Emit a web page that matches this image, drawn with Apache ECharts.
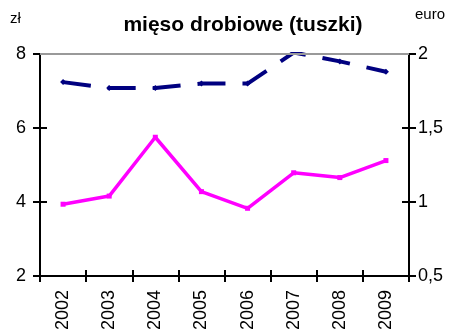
<!DOCTYPE html>
<html>
<head>
<meta charset="utf-8">
<script src="https://cdn.jsdelivr.net/npm/echarts@6/dist/echarts.min.js"></script>
<style>
  html, body { margin: 0; padding: 0; background: #fff; }
  #chart { width: 455px; height: 336px; }
</style>
</head>
<body>
<div id="chart"></div>
<script>
// Years on the category axis
const years = ['2002', '2003', '2004', '2005', '2006', '2007', '2008', '2009'];
// Price in złoty (left axis)
const pricePln = [3.94, 4.16, 5.75, 4.28, 3.83, 4.79, 4.66, 5.12];
// Price in euro (right axis)
const priceEur = [1.81, 1.77, 1.77, 1.80, 1.80, 2.01, 1.95, 1.88];
// Axis ranges and tick steps
const plnAxis = { min: 2, max: 8, interval: 2 };
const eurAxis = { min: 0.5, max: 2, interval: 0.5 };

const font = 'Liberation Sans, Arial, sans-serif';
const axisLabelStyle = { color: '#000', fontSize: 18, fontFamily: font };

const chart = echarts.init(document.getElementById('chart'), null, { renderer: 'canvas' });

const grid = { left: 40, right: 46, top: 54, bottom: 60, containLabel: false };

chart.setOption({
  animation: false,
  backgroundColor: '#fff',
  title: {
    text: 'mięso drobiowe (tuszki)',
    left: 238,
    top: 10,
    textAlign: 'center',
    textStyle: { fontFamily: font, fontSize: 21, fontWeight: 'bold', color: '#000' }
  },
  graphic: [
    { type: 'text', left: 10, top: 11, style: { text: 'zł', font: '15px ' + font, fill: '#000' } },
    { type: 'text', left: 415, top: 7, style: { text: 'euro', font: '15px ' + font, fill: '#000' } }
  ],
  grid: grid,
  xAxis: [
    {
      type: 'category',
      data: years,
      boundaryGap: true,
      axisLine: { lineStyle: { color: '#000', width: 2 } },
      axisTick: { show: true, length: 6, inside: false, lineStyle: { color: '#000', width: 2 } },
      axisLabel: Object.assign({ rotate: 90, margin: 14, interval: 0 }, axisLabelStyle),
      splitLine: { show: false }
    },
    {
      // duplicate axis that draws the inner half of the crossing ticks
      type: 'category',
      data: years,
      position: 'bottom',
      boundaryGap: true,
      axisLine: { show: false },
      axisTick: { show: true, length: 6, inside: true, lineStyle: { color: '#000', width: 2 } },
      axisLabel: { show: false },
      splitLine: { show: false }
    }
  ],
  yAxis: [
    {
      type: 'value',
      position: 'left',
      min: plnAxis.min, max: plnAxis.max, interval: plnAxis.interval,
      axisLine: { show: true, lineStyle: { color: '#000', width: 2 } },
      axisTick: { show: true, length: 7, lineStyle: { color: '#000', width: 2 } },
      axisLabel: Object.assign({ margin: 14 }, axisLabelStyle),
      splitLine: { show: false }
    },
    {
      type: 'value',
      position: 'right',
      min: eurAxis.min, max: eurAxis.max, interval: eurAxis.interval,
      axisLine: { show: true, lineStyle: { color: '#000', width: 2 } },
      axisTick: { show: true, length: 7, lineStyle: { color: '#000', width: 2 } },
      axisLabel: Object.assign({ margin: 9, formatter: v => String(v).replace('.', ',') }, axisLabelStyle),
      splitLine: { show: false }
    },
    {
      // inner halves of the left ticks
      type: 'value',
      position: 'left',
      min: plnAxis.min, max: plnAxis.max, interval: plnAxis.interval,
      axisLine: { show: false },
      axisTick: { show: true, inside: true, length: 7, lineStyle: { color: '#000', width: 2 } },
      axisLabel: { show: false },
      splitLine: { show: false }
    },
    {
      // inner halves of the right ticks
      type: 'value',
      position: 'right',
      min: eurAxis.min, max: eurAxis.max, interval: eurAxis.interval,
      axisLine: { show: false },
      axisTick: { show: true, inside: true, length: 7, lineStyle: { color: '#000', width: 2 } },
      axisLabel: { show: false },
      splitLine: { show: false }
    }
  ],
  series: [
    {
      // gray top border of the plot at 8 zł
      type: 'line',
      yAxisIndex: 0,
      data: [],
      markLine: {
        silent: true,
        symbol: 'none',
        label: { show: false },
        lineStyle: { color: '#999', width: 2, type: 'solid' },
        data: [{ yAxis: plnAxis.max }]
      }
    },
    {
      name: 'zł',
      type: 'line',
      yAxisIndex: 0,
      data: pricePln,
      symbol: 'rect',
      symbolSize: 5,
      itemStyle: { color: '#FF00FF' },
      lineStyle: { color: '#FF00FF', width: 3.5 },
      z: 3
    },
    {
      name: 'euro',
      type: 'line',
      yAxisIndex: 1,
      data: priceEur,
      symbol: 'diamond',
      symbolSize: 6,
      itemStyle: { color: '#000080' },
      lineStyle: { color: '#000080', width: 4, type: [28, 17] },
      z: 4
    }
  ]
});
</script>
</body>
</html>
